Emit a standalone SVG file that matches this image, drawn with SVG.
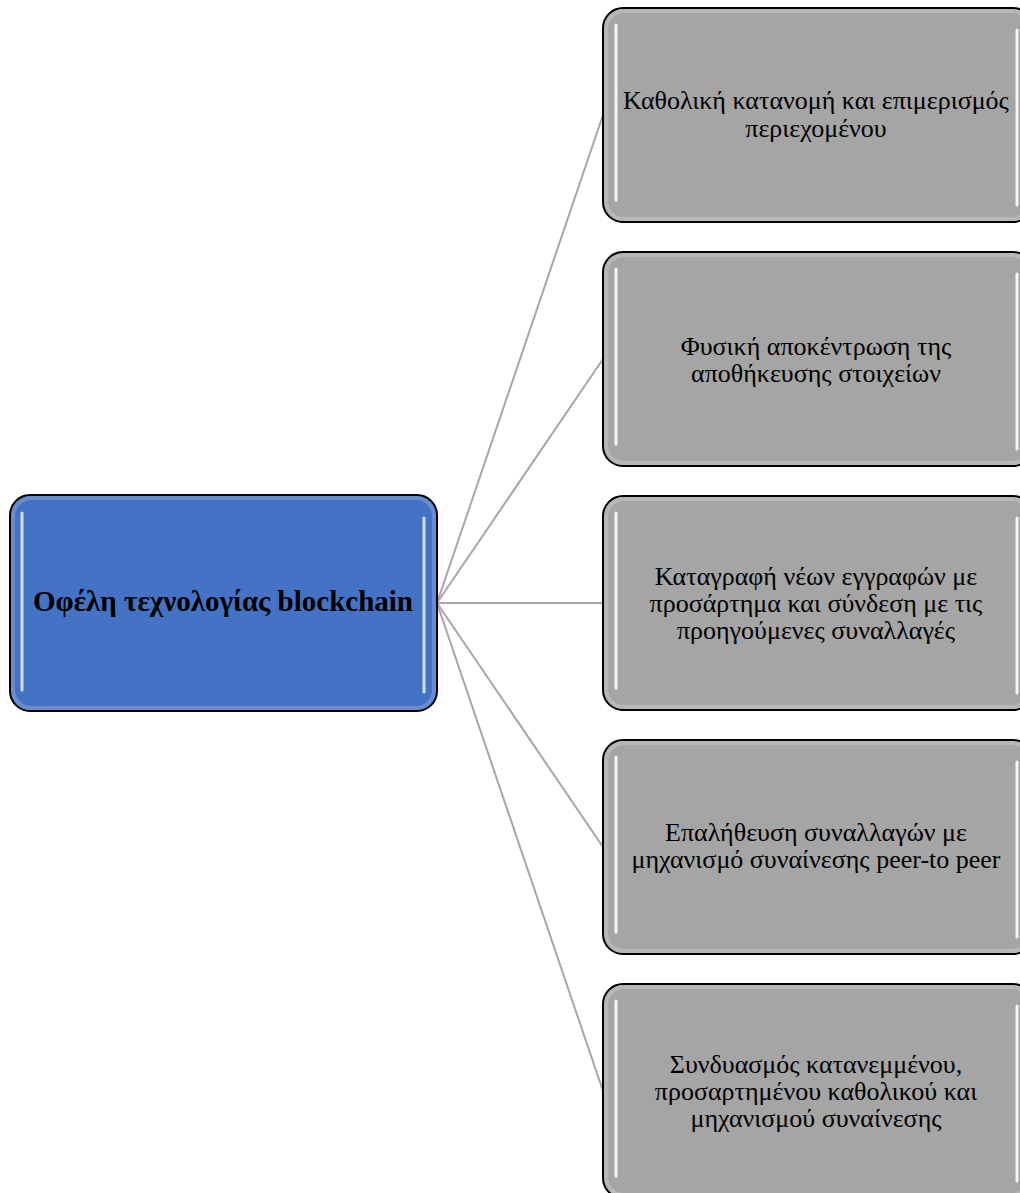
<svg xmlns="http://www.w3.org/2000/svg" width="1020" height="1193" viewBox="0 0 1020 1193">
<style>
.box{stroke:#000;stroke-width:2}
.grey{fill:#a5a5a5}
.blue{fill:#4472c4}
.hl{stroke:#fff;stroke-width:3;stroke-linecap:round;opacity:0.9}
.hlb{stroke:#cfe0ff;stroke-width:3;stroke-linecap:round}
.glow{fill:none;stroke:#fff;stroke-width:4;opacity:0.2}
.t{font-family:"Liberation Serif","DejaVu Serif",serif;font-size:26px;fill:#000;text-anchor:middle}
.tb{font-family:"Liberation Serif","DejaVu Serif",serif;font-size:29px;font-weight:bold;fill:#000;text-anchor:middle}
.c{stroke:#a6a6a6;stroke-width:2;fill:none}
</style>
<rect width="1020" height="1193" fill="#fff"/>
<g id="connectors">
<line class="c" x1="437" y1="603" x2="603" y2="115"/>
<line class="c" x1="437" y1="603" x2="603" y2="359"/>
<line class="c" x1="437" y1="603" x2="603" y2="603"/>
<line class="c" x1="437" y1="603" x2="603" y2="847"/>
<line class="c" x1="437" y1="603" x2="603" y2="1091"/>
</g>
<g id="center">
<rect class="box blue" x="10" y="495" width="427" height="216" rx="20"/>
<rect class="glow" x="13" y="498" width="421" height="210" rx="18"/>
<line class="hlb" x1="22" y1="513" x2="22" y2="690"/>
<line class="hlb" x1="424" y1="518" x2="424" y2="692"/>
<text class="tb" x="223" y="611">Οφέλη τεχνολογίας blockchain</text>
</g>
<g id="n1">
<rect class="box grey" x="603" y="8" width="430" height="214" rx="20"/>
<rect class="glow" x="606" y="11" width="424" height="208" rx="18"/>
<line class="hl" x1="616" y1="25" x2="616" y2="200"/>
<line class="hl" x1="1017" y1="30" x2="1017" y2="205"/>
<text class="t" x="816" y="109">Καθολική κατανομή και επιμερισμός</text>
<text class="t" x="816" y="137">περιεχομένου</text>
</g>
<g id="n2">
<rect class="box grey" x="603" y="252" width="430" height="214" rx="20"/>
<rect class="glow" x="606" y="255" width="424" height="208" rx="18"/>
<line class="hl" x1="616" y1="269" x2="616" y2="444"/>
<line class="hl" x1="1017" y1="274" x2="1017" y2="449"/>
<text class="t" x="816" y="355">Φυσική αποκέντρωση της</text>
<text class="t" x="816" y="382">αποθήκευσης στοιχείων</text>
</g>
<g id="n3">
<rect class="box grey" x="603" y="496" width="430" height="214" rx="20"/>
<rect class="glow" x="606" y="499" width="424" height="208" rx="18"/>
<line class="hl" x1="616" y1="513" x2="616" y2="688"/>
<line class="hl" x1="1017" y1="518" x2="1017" y2="693"/>
<text class="t" x="816" y="585">Καταγραφή νέων εγγραφών με</text>
<text class="t" x="816" y="612">προσάρτημα και σύνδεση με τις</text>
<text class="t" x="816" y="639">προηγούμενες συναλλαγές</text>
</g>
<g id="n4">
<rect class="box grey" x="603" y="740" width="430" height="214" rx="20"/>
<rect class="glow" x="606" y="743" width="424" height="208" rx="18"/>
<line class="hl" x1="616" y1="757" x2="616" y2="932"/>
<line class="hl" x1="1017" y1="762" x2="1017" y2="937"/>
<text class="t" x="816" y="841">Επαλήθευση συναλλαγών με</text>
<text class="t" x="816" y="868">μηχανισμό συναίνεσης peer-to peer</text>
</g>
<g id="n5">
<rect class="box grey" x="603" y="984" width="430" height="214" rx="20"/>
<rect class="glow" x="606" y="987" width="424" height="208" rx="18"/>
<line class="hl" x1="616" y1="1001" x2="616" y2="1176"/>
<line class="hl" x1="1017" y1="1006" x2="1017" y2="1181"/>
<text class="t" x="816" y="1073">Συνδυασμός κατανεμμένου,</text>
<text class="t" x="816" y="1100">προσαρτημένου καθολικού και</text>
<text class="t" x="816" y="1127">μηχανισμού συναίνεσης</text>
</g>
</svg>
